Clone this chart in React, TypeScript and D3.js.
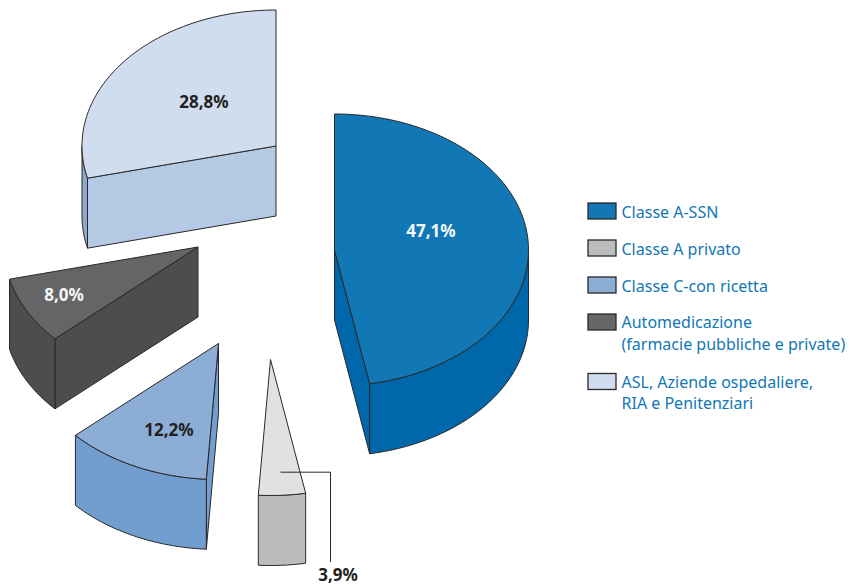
import { useRef, useEffect } from 'react';
import * as d3 from 'd3';

const categories = ['Classe A-SSN', 'Classe A privato', 'Classe C-con ricetta', 'Automedicazione', 'ASL'];
const values = [47.1, 3.9, 12.2, 8.0, 28.8];
const valueLabels = ['47,1%', '3,9%', '12,2%', '8,0%', '28,8%'];
const legendLines = [
  ['Classe A-SSN'],
  ['Classe A privato'],
  ['Classe C-con ricetta'],
  ['Automedicazione', '(farmacie pubbliche e private)'],
  ['ASL, Aziende ospedaliere,', 'RIA e Penitenziari'],
];

// colours per slice
const topColors = ['#1177b5', '#e0e1e3', '#8cadd5', '#656567', '#d0ddee'];
const sideColors = ['#0067aa', '#bbbcbe', '#719ecf', '#4d4d4f', '#b3c9e4'];
const rimColors = ['#0067aa', '#bbbcbe', '#719ecf', '#4d4d4f', '#8fa9ca'];
const swatchColors = ['#1177b5', '#bbbcbe', '#8cadd5', '#666769', '#d0ddee'];
const labelColors = ['#f4f7fb', '#231f20', '#231f20', '#f4f4f4', '#231f20'];

// where each exploded slice has its tip
const tips: [number, number][] = [[334.5, 250], [270.5, 359.5], [218.5, 343.5], [198, 247], [276, 146]];
const labelPos: [number, number][] = [[431, 237], [338, 580.5], [169, 436], [64, 301], [204, 108]];
const legendY = [203, 240, 277, 314, 373.5];
const legendBase = [[218], [255], [292], [328, 350], [388, 409]];

const width = 856;
const height = 585;
const rx = 194;
const ry = 136;
const depth = 70;
const ink = '#2b2728';
const font = '"Noto Sans", sans-serif';

export default function App() {
  const svgRef = useRef<SVGSVGElement>(null);

  useEffect(() => {
    if (!svgRef.current) return;
    const svg = d3.select(svgRef.current);
    svg.selectAll('*').remove();

    const arcs = d3.pie<number>().sort(null)(values);
    const line = d3.line();

    // ellipse point for a pie angle, relative to the tip
    const pt = (a: number, dz = 0): [number, number] => [rx * Math.sin(a), -ry * Math.cos(a) + dz];
    const rimPts = (a0: number, a1: number, dz = 0) => {
      const n = Math.max(2, Math.ceil((a1 - a0) / 0.02));
      return d3.range(n + 1).map(i => pt(a0 + ((a1 - a0) * i) / n, dz));
    };

    arcs.forEach((arc, i) => {
      const g = svg.append('g')
        .attr('class', `slice ${categories[i]}`)
        .attr('transform', `translate(${tips[i][0]},${tips[i][1]})`)
        .attr('stroke', ink)
        .attr('stroke-width', 1)
        .attr('stroke-linejoin', 'round');

      // cut faces, only those turned towards the viewer
      const face = (a: number, color: string) => {
        const p = pt(a);
        g.append('path')
          .attr('fill', color)
          .attr('d', line([[0, 0], p, [p[0], p[1] + depth], [0, depth]])! + 'Z');
      };
      if (Math.sin(arc.startAngle) < -1e-6) face(arc.startAngle, sideColors[i]);
      if (Math.sin(arc.endAngle) > 1e-6) face(arc.endAngle, sideColors[i]);

      // outer rim, front half of the ellipse only
      const a0 = Math.max(arc.startAngle, Math.PI / 2);
      const a1 = Math.min(arc.endAngle, (3 * Math.PI) / 2);
      if (a1 > a0) {
        g.append('path')
          .attr('fill', rimColors[i])
          .attr('d', line([...rimPts(a0, a1), ...rimPts(a0, a1, depth).reverse()])! + 'Z');
      }

      // top
      g.append('path')
        .attr('fill', topColors[i])
        .attr('d', line([[0, 0], ...rimPts(arc.startAngle, arc.endAngle)])! + 'Z');
    });

    // leader for the small slice
    const small = arcs[1];
    const leaderStart = pt((small.startAngle + small.endAngle) / 2);
    const leaderY = tips[1][1] + leaderStart[1] * 0.83;
    svg.append('path')
      .attr('fill', 'none')
      .attr('stroke', ink)
      .attr('stroke-width', 1)
      .attr('d', line([[tips[1][0] + 10, leaderY], [labelPos[1][0] - 7.5, leaderY], [labelPos[1][0] - 7.5, labelPos[1][1] - 18.5]])!);

    // value labels
    svg.append('g')
      .selectAll('text')
      .data(valueLabels)
      .join('text')
      .attr('x', (_, i) => labelPos[i][0])
      .attr('y', (_, i) => labelPos[i][1])
      .attr('text-anchor', 'middle')
      .attr('font-family', font)
      .attr('font-weight', 'bold')
      .attr('font-size', 17)
      .attr('fill', (_, i) => labelColors[i])
      .text(d => d);

    // legend
    const legend = svg.append('g');
    legendLines.forEach((lines, i) => {
      legend.append('rect')
        .attr('x', 588)
        .attr('y', legendY[i])
        .attr('width', 28)
        .attr('height', 16)
        .attr('fill', swatchColors[i])
        .attr('stroke', ink)
        .attr('stroke-width', 1.3);
      lines.forEach((t, j) => {
        legend.append('text')
          .attr('x', 621.5)
          .attr('y', legendBase[i][j])
          .attr('font-family', font)
          .attr('font-size', 16)
          .attr('fill', '#1177b5')
          .text(t);
      });
    });
  }, []);

  return (
    <svg
      ref={svgRef}
      width={width}
      height={height}
      viewBox={`0 0 ${width} ${height}`}
      style={{ position: 'absolute', left: 0, top: 0, background: '#fff' }}
    />
  );
}
